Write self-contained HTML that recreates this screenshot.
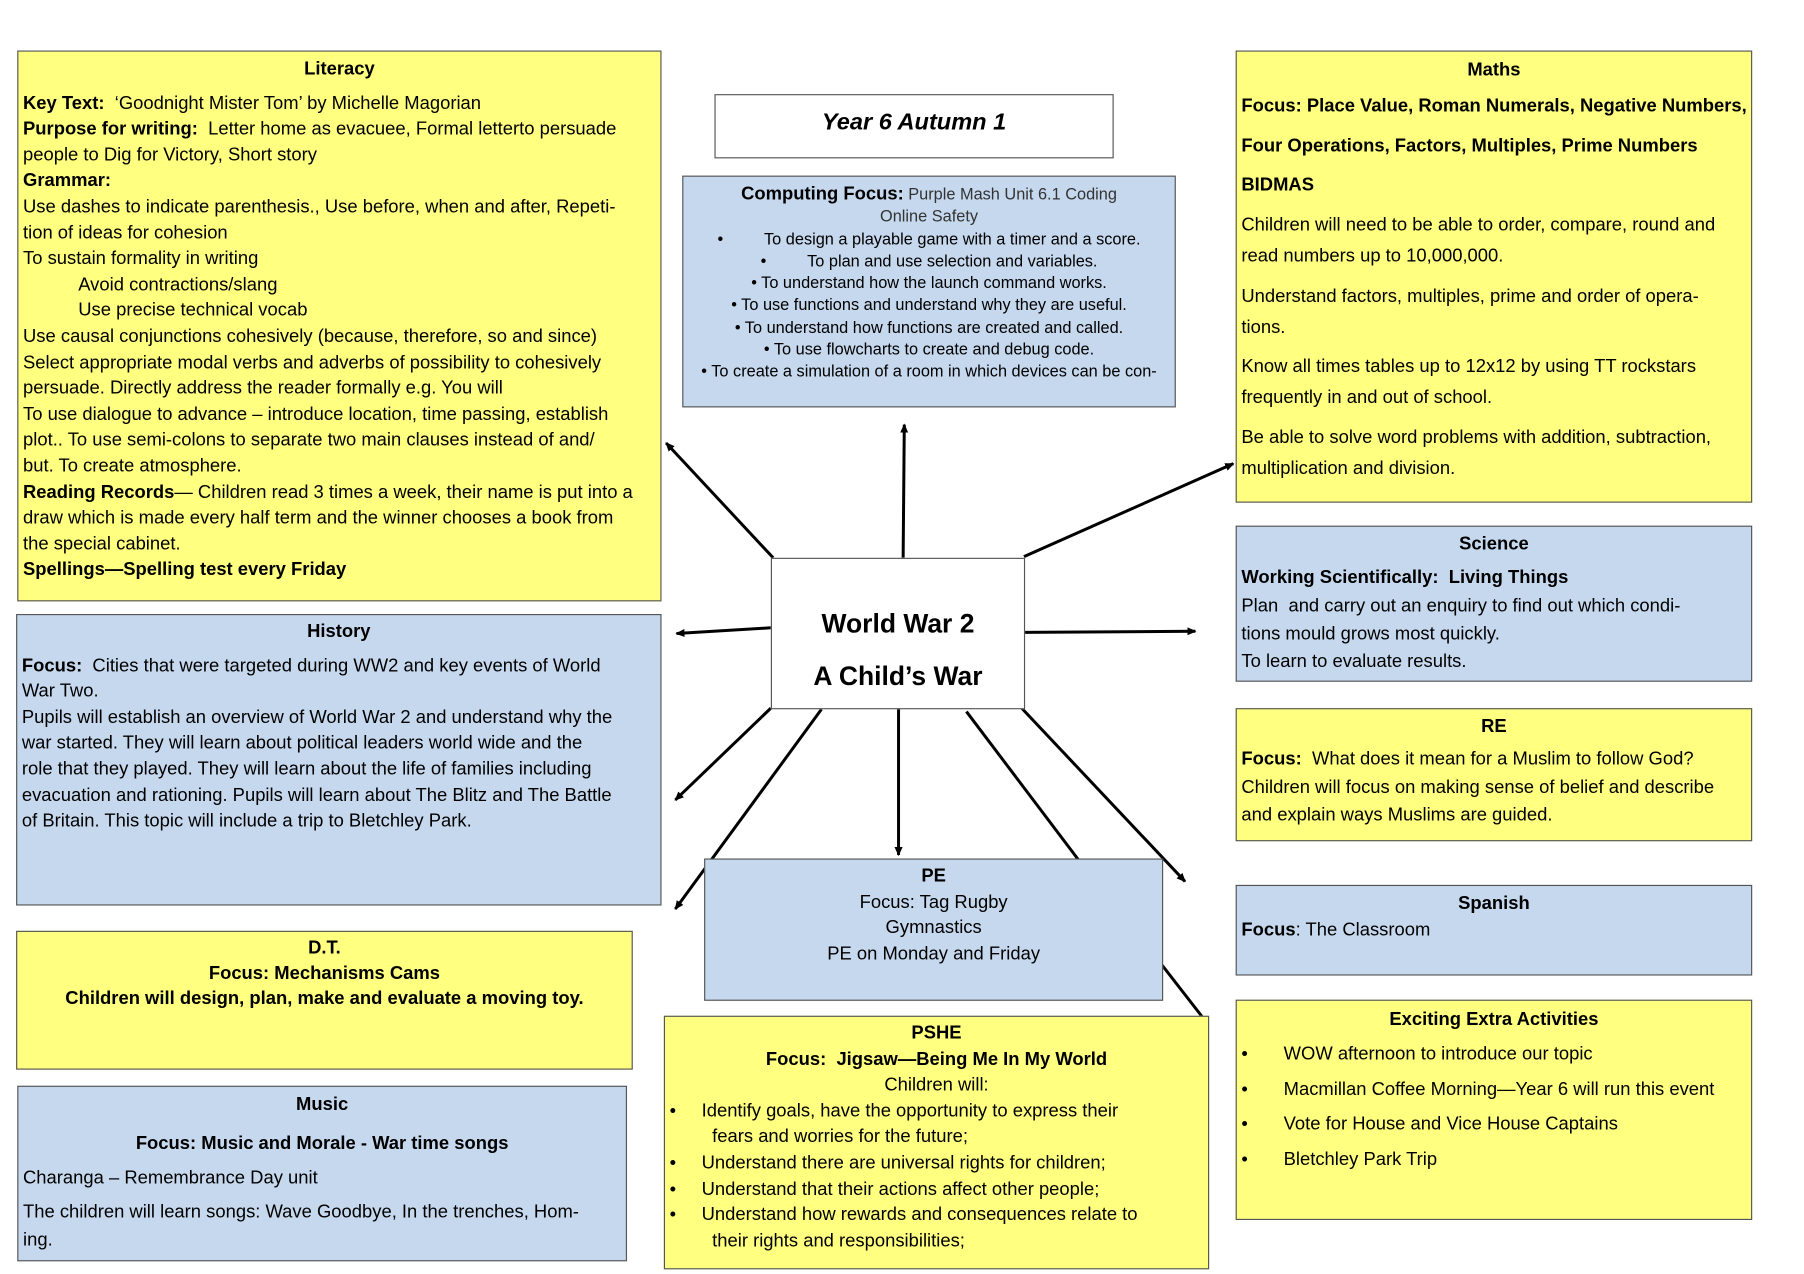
<!DOCTYPE html>
<html><head><meta charset="utf-8">
<style>
html,body{margin:0;padding:0;background:#fff;width:1804px;height:1274px;overflow:hidden}
#s{position:absolute;left:0;top:0;width:1568px;height:1110px;transform:scale(1.1505,1.1477);transform-origin:0 0;font-family:"Liberation Sans",sans-serif;color:#000}
.b{position:absolute;box-sizing:border-box;border:1.3px solid #555;font-size:16px;line-height:22.6px;padding:4px 4px;white-space:nowrap;overflow:hidden}
.y{background:#ffff80}
.u{background:#c6d8ee}
.w{background:#fff}
.c{text-align:center}
.h{font-weight:bold;text-align:center}
.i{padding-left:48px}
svg{position:absolute;left:0;top:0}
</style></head><body><div id="s">
<svg width="1568" height="1110" viewBox="0 0 1568 1110">
<defs><marker id="a" markerWidth="8" markerHeight="8" refX="7" refY="4" orient="auto" markerUnits="userSpaceOnUse"><path d="M0,0.5 L8,4 L0,7.5 z" fill="#000"/></marker></defs>
<g stroke="#000" stroke-width="2.6" fill="none">
<line x1="672" y1="486" x2="579" y2="386" marker-end="url(#a)"/>
<line x1="785" y1="486" x2="786" y2="370" marker-end="url(#a)"/>
<line x1="890" y1="485" x2="1072" y2="404" marker-end="url(#a)"/>
<line x1="670" y1="547" x2="588" y2="552" marker-end="url(#a)"/>
<line x1="890" y1="551" x2="1039" y2="550" marker-end="url(#a)"/>
<line x1="670" y1="617" x2="587" y2="697" marker-end="url(#a)"/>
<line x1="714" y1="618" x2="587" y2="792" marker-end="url(#a)"/>
<line x1="781" y1="617" x2="781" y2="745" marker-end="url(#a)"/>
<line x1="840" y1="620" x2="938" y2="750"/>
<line x1="888" y1="617" x2="1030" y2="768" marker-end="url(#a)"/>
<line x1="990" y1="815" x2="1045" y2="886"/>
</g></svg>

<div class="b y" style="left:15px;top:44px;width:560px;height:480px">
<div class="h" style="margin-top:1px;margin-bottom:7px">Literacy</div>
<div><b>Key Text:</b>&nbsp; ‘Goodnight Mister Tom’ by Michelle Magorian</div>
<div><b>Purpose for writing:</b>&nbsp; Letter home as evacuee, Formal letterto persuade</div>
<div>people to Dig for Victory, Short story</div>
<div><b>Grammar:</b></div>
<div>Use dashes to indicate parenthesis., Use before, when and after, Repeti-</div>
<div>tion of ideas for cohesion</div>
<div>To sustain formality in writing</div>
<div class="i">Avoid contractions/slang</div>
<div class="i">Use precise technical vocab</div>
<div>Use causal conjunctions cohesively (because, therefore, so and since)</div>
<div>Select appropriate modal verbs and adverbs of possibility to cohesively</div>
<div>persuade. Directly address the reader formally e.g. You will</div>
<div>To use dialogue to advance – introduce location, time passing, establish</div>
<div>plot.. To use semi-colons to separate two main clauses instead of and/</div>
<div>but. To create atmosphere.</div>
<div><b>Reading Records</b>— Children read 3 times a week, their name is put into a</div>
<div>draw which is made every half term and the winner chooses a book from</div>
<div>the special cabinet.</div>
<div><b>Spellings—Spelling test every Friday</b></div>
</div>

<div class="b w c" style="left:621px;top:82px;width:347px;height:56px;font-size:20.5px;font-weight:bold;font-style:italic;line-height:40px">Year 6 Autumn 1</div>

<div class="b u c" style="left:593px;top:153px;width:429px;height:202px;font-size:14.2px;line-height:19.3px;padding-top:6px">
<div><b style="font-size:16px">Computing Focus:</b> <span style="color:#333">Purple Mash Unit 6.1 Coding</span></div>
<div style="color:#333">Online Safety</div>
<div>•&nbsp;&nbsp;&nbsp;&nbsp;&nbsp;&nbsp;&nbsp;&nbsp;&nbsp;To design a playable game with a timer and a score.</div>
<div>•&nbsp;&nbsp;&nbsp;&nbsp;&nbsp;&nbsp;&nbsp;&nbsp;&nbsp;To plan and use selection and variables.</div>
<div>• To understand how the launch command works.</div>
<div>• To use functions and understand why they are useful.</div>
<div>• To understand how functions are created and called.</div>
<div>• To use flowcharts to create and debug code.</div>
<div>• To create a simulation of a room in which devices can be con-</div>
</div>

<div class="b y" style="left:1074px;top:44px;width:449px;height:394px;line-height:26.8px">
<div class="h" style="margin-bottom:4px">Maths</div>
<div style="margin-bottom:8px"><b>Focus: Place Value, Roman Numerals, Negative Numbers,</b></div>
<div style="margin-bottom:8px"><b>Four Operations, Factors, Multiples, Prime Numbers</b></div>
<div style="margin-bottom:8px"><b>BIDMAS</b></div>
<div>Children will need to be able to order, compare, round and</div>
<div style="margin-bottom:8px">read numbers up to 10,000,000.</div>
<div>Understand factors, multiples, prime and order of opera-</div>
<div style="margin-bottom:8px">tions.</div>
<div>Know all times tables up to 12x12 by using TT rockstars</div>
<div style="margin-bottom:8px">frequently in and out of school.</div>
<div>Be able to solve word problems with addition, subtraction,</div>
<div>multiplication and division.</div>
</div>

<div class="b w c" style="left:670px;top:486px;width:221px;height:132px;font-size:23px;font-weight:bold;line-height:46px;padding-top:33px">World War 2<br>A Child’s War</div>

<div class="b u" style="left:14px;top:535px;width:561px;height:254px">
<div class="h" style="margin-bottom:7px">History</div>
<div><b>Focus:</b>&nbsp; Cities that were targeted during WW2 and key events of World</div>
<div>War Two.</div>
<div>Pupils will establish an overview of World War 2 and understand why the</div>
<div>war started. They will learn about political leaders world wide and the</div>
<div>role that they played. They will learn about the life of families including</div>
<div>evacuation and rationing. Pupils will learn about The Blitz and The Battle</div>
<div>of Britain. This topic will include a trip to Bletchley Park.</div>
</div>

<div class="b u" style="left:1074px;top:458px;width:449px;height:136px;line-height:24.3px">
<div class="h" style="margin-bottom:5px">Science</div>
<div><b>Working Scientifically:&nbsp; Living Things</b></div>
<div>Plan&nbsp; and carry out an enquiry to find out which condi-</div>
<div>tions mould grows most quickly.</div>
<div>To learn to evaluate results.</div>
</div>

<div class="b y" style="left:1074px;top:617px;width:449px;height:116px;line-height:24.3px">
<div class="h" style="margin-bottom:4px">RE</div>
<div><b>Focus:</b>&nbsp; What does it mean for a Muslim to follow God?</div>
<div>Children will focus on making sense of belief and describe</div>
<div>and explain ways Muslims are guided.</div>
</div>

<div class="b y c" style="left:14px;top:811px;width:536px;height:121px;line-height:22px">
<div><b>D.T.</b></div>
<div><b>Focus: Mechanisms Cams</b></div>
<div><b>Children will design, plan, make and evaluate a moving toy.</b></div>
</div>

<div class="b u c" style="left:612px;top:748px;width:399px;height:124px">
<div><b>PE</b></div>
<div>Focus: Tag Rugby</div>
<div>Gymnastics</div>
<div>PE on Monday and Friday</div>
</div>

<div class="b u" style="left:1074px;top:771px;width:449px;height:79px">
<div class="h" style="margin-top:1px">Spanish</div>
<div><b>Focus</b>: The Classroom</div>
</div>

<div class="b u" style="left:15px;top:946px;width:530px;height:153px;line-height:24px">
<div class="h" style="margin-bottom:10px">Music</div>
<div class="h" style="margin-bottom:6px">Focus: Music and Morale - War time songs</div>
<div style="margin-bottom:6px">Charanga – Remembrance Day unit</div>
<div>The children will learn songs: Wave Goodbye, In the trenches, Hom-</div>
<div>ing.</div>
</div>

<div class="b y" style="left:577px;top:885px;width:474px;height:221px">
<div class="h">PSHE</div>
<div class="h">Focus:&nbsp; Jigsaw—Being Me In My World</div>
<div class="c">Children will:</div>
<div>•&nbsp;&nbsp;&nbsp;&nbsp;&nbsp;Identify goals, have the opportunity to express their</div>
<div style="padding-left:37px">fears and worries for the future;</div>
<div>•&nbsp;&nbsp;&nbsp;&nbsp;&nbsp;Understand there are universal rights for children;</div>
<div>•&nbsp;&nbsp;&nbsp;&nbsp;&nbsp;Understand that their actions affect other people;</div>
<div>•&nbsp;&nbsp;&nbsp;&nbsp;&nbsp;Understand how rewards and consequences relate to</div>
<div style="padding-left:37px">their rights and responsibilities;</div>
</div>

<div class="b y" style="left:1074px;top:871px;width:449px;height:192px;line-height:30.5px">
<div class="h" style="line-height:26px;margin-bottom:2px">Exciting Extra Activities</div>
<div>•&nbsp;&nbsp;&nbsp;&nbsp;&nbsp;&nbsp;&nbsp;WOW afternoon to introduce our topic</div>
<div>•&nbsp;&nbsp;&nbsp;&nbsp;&nbsp;&nbsp;&nbsp;Macmillan Coffee Morning—Year 6 will run this event</div>
<div>•&nbsp;&nbsp;&nbsp;&nbsp;&nbsp;&nbsp;&nbsp;Vote for House and Vice House Captains</div>
<div>•&nbsp;&nbsp;&nbsp;&nbsp;&nbsp;&nbsp;&nbsp;Bletchley Park Trip</div>
</div>
</div></body></html>
